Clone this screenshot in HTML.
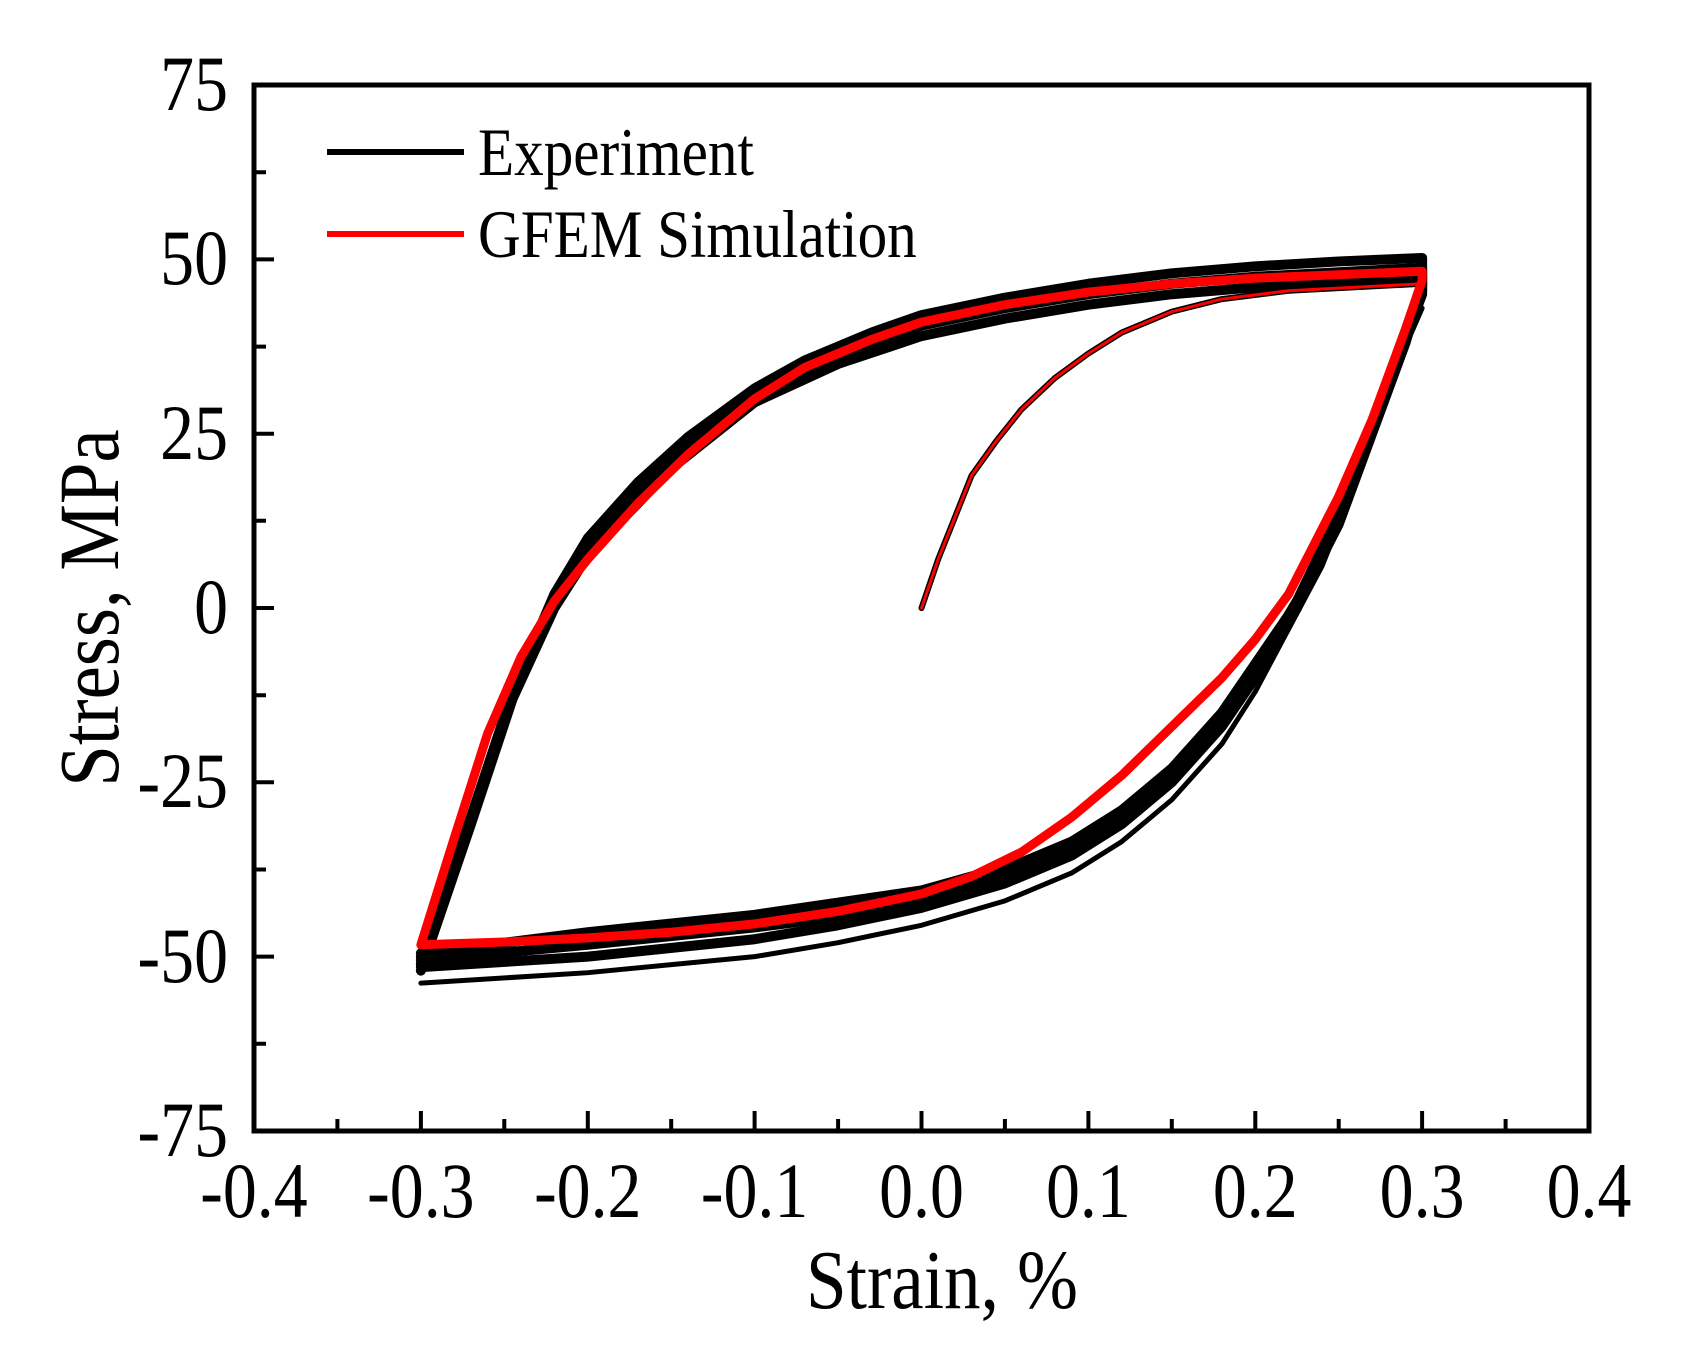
<!DOCTYPE html>
<html><head><meta charset="utf-8"><style>
html,body{margin:0;padding:0;background:#fff}
svg{display:block}
text{font-family:"Liberation Serif",serif;fill:#000}
</style></head><body>
<svg width="1693" height="1356" viewBox="0 0 1693 1356" xmlns="http://www.w3.org/2000/svg">
<defs><clipPath id="c"><rect x="254" y="85" width="1335" height="1046"/></clipPath></defs>
<g clip-path="url(#c)">
<g transform="translate(921.5,608) scale(1668.75,-6.973)" fill="none" stroke-linejoin="round" stroke-linecap="round">
<g stroke="#000">
<polyline vector-effect="non-scaling-stroke" stroke-width="10" points="-0.3,-50 -0.285,-40 -0.27,-30 -0.245,-12 -0.22,2 -0.2,10 -0.17,18 -0.14,24.5 -0.1,31.5 -0.07,35.5 -0.03,39.5 0,42 0.05,44.5 0.1,46.5 0.15,48 0.2,49 0.25,49.7 0.3,50.2 0.3,46 0.29,38 0.27,25 0.25,12 0.235,5 0.22,-1 0.2,-8 0.18,-15 0.15,-23 0.12,-29 0.09,-33.5 0.06,-36.5 0.03,-38.5 0,-40.5 -0.1,-44 -0.2,-46.5 -0.3,-49.5"/>
<polyline vector-effect="non-scaling-stroke" stroke-width="10" points="-0.3,-51 -0.285,-40.5 -0.27,-30.5 -0.245,-12.5 -0.22,1 -0.2,8.7 -0.16,19 -0.12,27.5 -0.1,30.5 -0.05,36.5 0,40.5 0.05,43 0.1,45 0.15,46.5 0.2,47.5 0.3,48.8 0.3,45.5 0.285,35 0.265,22 0.245,11 0.225,1 0.2,-9 0.18,-16 0.15,-24 0.12,-30 0.09,-34.5 0.05,-38 0,-41.8 -0.05,-44.3 -0.1,-45.8 -0.2,-48.3 -0.3,-50.5"/>
<polyline vector-effect="non-scaling-stroke" stroke-width="10" points="-0.3,-52 -0.27,-31 -0.245,-13 -0.22,0 -0.2,7.5 -0.15,20 -0.1,29.5 -0.05,35 0,39 0.05,41.5 0.1,43.5 0.15,45 0.2,46 0.3,47.5 0.3,45 0.28,32 0.26,20 0.245,10 0.225,0 0.2,-10 0.18,-17 0.15,-25 0.12,-31 0.09,-35.5 0.05,-39.5 0,-43 -0.05,-45.5 -0.1,-47.5 -0.2,-50 -0.3,-51.5"/>
<polyline vector-effect="non-scaling-stroke" stroke-width="5" points="-0.3,-53.8 -0.2,-52.3 -0.1,-50 -0.05,-48 0,-45.5 0.05,-42 0.09,-38 0.12,-33.5 0.15,-27.5 0.18,-19.5 0.2,-12 0.22,-3 0.24,6 0.26,18 0.28,32 0.3,43"/>
<polyline vector-effect="non-scaling-stroke" stroke-width="6" points="0,0 0.01,7 0.02,13 0.03,19 0.045,24 0.06,28.5 0.08,33 0.1,36.5 0.12,39.5 0.15,42.5 0.18,44.3 0.22,45.5 0.3,46.5"/>
</g>
<polyline stroke="#f00" vector-effect="non-scaling-stroke" stroke-width="9" points="-0.3,-48.3 -0.28,-33 -0.26,-18 -0.24,-7 -0.22,1 -0.2,7 -0.17,15 -0.14,22 -0.1,30 -0.07,34.5 -0.03,38.5 0,41 0.05,43.5 0.1,45.3 0.15,46.5 0.2,47.3 0.25,47.8 0.3,48.3 0.3,47 0.29,40 0.27,27 0.25,16 0.235,9 0.22,2 0.2,-4.5 0.18,-10 0.15,-17 0.12,-24 0.09,-30 0.06,-35 0.03,-38.5 0,-41 -0.05,-43.5 -0.1,-45.3 -0.15,-46.5 -0.2,-47.3 -0.25,-47.9 -0.3,-48.3"/>
<polyline stroke="#f00" vector-effect="non-scaling-stroke" stroke-width="3" points="0,0 0.01,7 0.02,13 0.03,19 0.045,24 0.06,28.5 0.08,33 0.1,36.5 0.12,39.5 0.15,42.5 0.18,44.3 0.22,45.5 0.3,46.5"/>
</g>
</g>
<rect x="254" y="85" width="1335" height="1046" fill="none" stroke="#000" stroke-width="5"/>
<g stroke="#000" stroke-width="4">
<path d="M420.9,1131v-20M587.8,1131v-20M754.6,1131v-20M921.5,1131v-20M1088.4,1131v-20M1255.3,1131v-20M1422.1,1131v-20"/>
<path d="M337.4,1131v-12M504.3,1131v-12M671.2,1131v-12M838.1,1131v-12M1004.9,1131v-12M1171.8,1131v-12M1338.7,1131v-12M1505.6,1131v-12"/>
<path d="M254,259.4h20M254,433.7h20M254,608h20M254,782.3h20M254,956.6h20"/>
<path d="M254,172.2h12M254,346.6h12M254,520.8h12M254,695.2h12M254,869.5h12M254,1043.8h12"/>
</g>
<g font-size="78" text-anchor="middle">
<text x="254" y="1217" transform="translate(254,0) scale(0.87,1) translate(-254,0)">-0.4</text>
<text x="420.9" y="1217" transform="translate(420.9,0) scale(0.87,1) translate(-420.9,0)">-0.3</text>
<text x="587.8" y="1217" transform="translate(587.8,0) scale(0.87,1) translate(-587.8,0)">-0.2</text>
<text x="754.6" y="1217" transform="translate(754.6,0) scale(0.87,1) translate(-754.6,0)">-0.1</text>
<text x="921.5" y="1217" transform="translate(921.5,0) scale(0.87,1) translate(-921.5,0)">0.0</text>
<text x="1088.4" y="1217" transform="translate(1088.4,0) scale(0.87,1) translate(-1088.4,0)">0.1</text>
<text x="1255.3" y="1217" transform="translate(1255.3,0) scale(0.87,1) translate(-1255.3,0)">0.2</text>
<text x="1422.1" y="1217" transform="translate(1422.1,0) scale(0.87,1) translate(-1422.1,0)">0.3</text>
<text x="1589" y="1217" transform="translate(1589,0) scale(0.87,1) translate(-1589,0)">0.4</text>
</g>
<g font-size="78" text-anchor="end" transform="translate(228,0) scale(0.87,1) translate(-228,0)">
<text x="228" y="110">75</text>
<text x="228" y="284">50</text>
<text x="228" y="459">25</text>
<text x="228" y="633">0</text>
<text x="228" y="807">-25</text>
<text x="228" y="982">-50</text>
<text x="228" y="1156">-75</text>
</g>
<text x="942" y="1308" font-size="84" text-anchor="middle" transform="translate(942,0) scale(0.87,1) translate(-942,0)">Strain, %</text>
<text font-size="86" text-anchor="middle" transform="translate(118,608) rotate(-90) scale(0.87,1)">Stress, MPa</text>
<line x1="327" y1="152" x2="464" y2="152" stroke="#000" stroke-width="6"/>
<line x1="327" y1="234" x2="464" y2="234" stroke="#f00" stroke-width="6"/>
<g font-size="68" transform="translate(478,0) scale(0.87,1) translate(-478,0)">
<text x="478" y="175">Experiment</text>
<text x="478" y="257">GFEM Simulation</text>
</g>
</svg>
</body></html>
